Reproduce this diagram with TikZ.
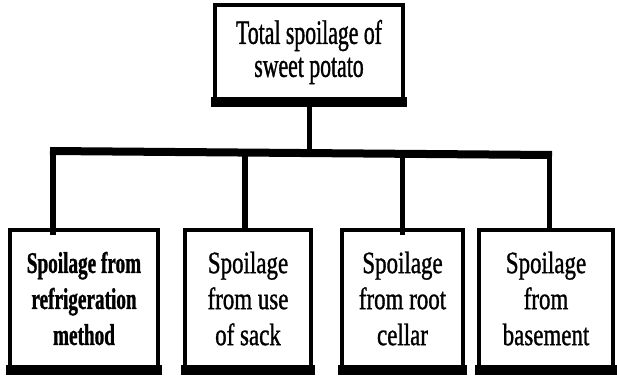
\documentclass[tikz,border=0pt]{standalone}
\usepackage{fontspec}
\setmainfont{Liberation Serif}
\newfontfamily\topf[FakeStretch=0.64,FakeBold=1]{Liberation Serif}
\newfontfamily\lowf[FakeStretch=0.74,FakeBold=1]{Liberation Serif}
\newfontfamily\lowbf[FakeStretch=0.64,FakeBold=1]{Liberation Serif}
\begin{document}
\begin{tikzpicture}[x=1pt,y=-1pt,
  box/.style={draw, line width=4pt, inner sep=0pt, align=center},
  low/.style={box, minimum height=137pt, font=\lowf\fontsize{31}{36}\selectfont},
  link/.style={line width=5.5pt},
  bar/.style={line width=8pt}]
\useasboundingbox (0,0) rectangle (617,380);
\node[box, minimum width=188pt, minimum height=94pt, font=\topf\fontsize{34}{33}\selectfont] (top) at (309,52) {Total spoilage of\\sweet potato};
\node[low, minimum width=148pt, font=\lowbf\bfseries\fontsize{30}{36}\selectfont] (a) at (84,298.5) {Spoilage from\\refrigeration\\method};
\node[low, minimum width=126pt] (b) at (248,298.5) {Spoilage\\from use\\of sack};
\node[low, minimum width=121pt] (c) at (402.5,298.5) {Spoilage\\from root\\cellar};
\node[low, minimum width=134pt] (d) at (546,298.5) {Spoilage\\from\\basement};
\foreach \n in {top,a,b,c,d}
  \fill ([xshift=-2pt,yshift=4pt]\n.south west) rectangle ([xshift=2pt,yshift=-6pt]\n.south east);
\coordinate (L) at (50,151);
\coordinate (R) at (552,155);
\draw[bar] (L) -- (R);
\coordinate (s0) at (309.5,153);
\coordinate (c1) at (53,151);
\coordinate (c2) at (245,152.5);
\coordinate (c3) at (402.5,153.8);
\coordinate (c4) at (549.5,155);
\draw[link] (top.south -| s0) -- (s0);
\draw[link] (c1) -- ([yshift=-7pt]c1 |- a.north);
\draw[link] (c2) -- (c2 |- b.north);
\draw[link] (c3) -- ([yshift=-7pt]c3 |- c.north);
\draw[link] (c4) -- (c4 |- d.north);
\end{tikzpicture}
\end{document}
